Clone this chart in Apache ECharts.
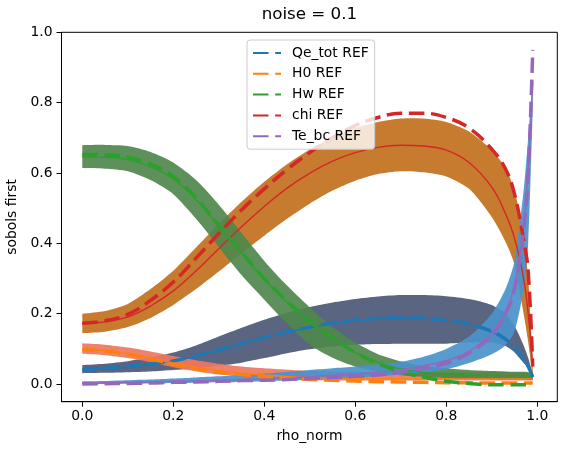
<!DOCTYPE html>
<html>
<head>
<meta charset="utf-8">
<script src="https://cdn.jsdelivr.net/npm/echarts@6/dist/echarts.min.js"></script>
<style>
  html, body { margin: 0; padding: 0; background: #fff; }
  #chart { width: 567px; height: 455px; }
</style>
</head>
<body>
<div id="chart"></div>
<script>
// rho_norm grid
var xs = [0, 0.05, 0.1, 0.15, 0.2, 0.25, 0.3, 0.35, 0.4, 0.45, 0.5, 0.55, 0.6, 0.65, 0.7, 0.75, 0.8, 0.85, 0.9, 0.93, 0.95, 0.97, 0.98, 0.99];

// Qe_tot
var qeRef  = [0.040,0.045,0.050,0.057,0.066,0.080,0.097,0.115,0.132,0.148,0.162,0.174,0.182,0.187,0.189,0.187,0.181,0.170,0.150,0.128,0.104,0.070,0.050,0.020];
var qeMean = [0.041,0.044,0.049,0.056,0.066,0.079,0.096,0.114,0.131,0.147,0.161,0.172,0.180,0.185,0.187,0.185,0.179,0.168,0.148,0.126,0.102,0.068,0.048,0.022];
var qeLo   = [0.031,0.032,0.034,0.036,0.040,0.045,0.052,0.061,0.074,0.088,0.099,0.107,0.112,0.114,0.115,0.115,0.115,0.118,0.118,0.108,0.090,0.060,0.045,0.018];
var qeHi   = [0.054,0.058,0.065,0.076,0.090,0.110,0.135,0.160,0.183,0.203,0.219,0.232,0.242,0.249,0.253,0.253,0.250,0.242,0.225,0.200,0.165,0.110,0.075,0.030];

// H0
var h0Ref  = [0.098,0.094,0.085,0.072,0.057,0.044,0.034,0.027,0.021,0.017,0.013,0.011,0.009,0.007,0.006,0.005,0.004,0.004,0.003,0.003,0.003,0.003,0.003,0.003];
var h0Mean = [0.100,0.095,0.086,0.074,0.060,0.048,0.038,0.031,0.026,0.022,0.019,0.017,0.016,0.015,0.015,0.015,0.015,0.015,0.015,0.015,0.015,0.015,0.015,0.015];
var h0Lo   = [0.086,0.082,0.074,0.062,0.048,0.036,0.027,0.021,0.017,0.014,0.012,0.011,0.010,0.010,0.010,0.010,0.010,0.010,0.010,0.010,0.010,0.010,0.010,0.010];
var h0Hi   = [0.116,0.112,0.104,0.093,0.080,0.068,0.058,0.050,0.045,0.041,0.038,0.036,0.035,0.034,0.034,0.034,0.034,0.034,0.034,0.034,0.033,0.032,0.032,0.030];

// Hw
var hwRef  = [0.653,0.652,0.645,0.625,0.590,0.530,0.450,0.375,0.300,0.236,0.178,0.130,0.090,0.058,0.035,0.020,0.008,0.002,-0.002,-0.002,-0.002,-0.002,-0.002,-0.002];
var hwMean = [0.646,0.645,0.638,0.618,0.583,0.525,0.448,0.372,0.298,0.233,0.175,0.128,0.090,0.062,0.043,0.033,0.028,0.026,0.025,0.024,0.024,0.023,0.022,0.020];
var hwLo   = [0.614,0.612,0.605,0.580,0.540,0.470,0.390,0.310,0.240,0.172,0.112,0.075,0.050,0.035,0.025,0.020,0.017,0.015,0.014,0.013,0.013,0.013,0.012,0.012];
var hwHi   = [0.679,0.680,0.677,0.660,0.630,0.580,0.510,0.430,0.350,0.280,0.218,0.162,0.118,0.085,0.065,0.052,0.045,0.040,0.037,0.036,0.035,0.035,0.034,0.030];

// chi
var chiRef  = [0.173,0.180,0.198,0.238,0.290,0.358,0.428,0.495,0.555,0.610,0.658,0.700,0.735,0.758,0.770,0.770,0.758,0.728,0.668,0.612,0.540,0.410,0.320,0.050];
var chiMean = [0.172,0.177,0.191,0.222,0.265,0.322,0.385,0.447,0.505,0.557,0.600,0.634,0.658,0.673,0.679,0.677,0.665,0.630,0.560,0.485,0.415,0.300,0.200,0.050];
var chiLo   = [0.145,0.149,0.162,0.188,0.225,0.270,0.320,0.372,0.422,0.470,0.513,0.550,0.578,0.597,0.605,0.602,0.590,0.555,0.475,0.405,0.340,0.200,0.120,0.020];
var chiHi   = [0.200,0.208,0.228,0.270,0.322,0.388,0.455,0.518,0.575,0.625,0.667,0.702,0.728,0.745,0.755,0.755,0.745,0.718,0.665,0.615,0.550,0.420,0.300,0.070];

// Te_bc
var teRef  = [0.000,0.001,0.002,0.003,0.005,0.006,0.008,0.010,0.011,0.013,0.016,0.019,0.022,0.026,0.033,0.045,0.060,0.088,0.140,0.200,0.270,0.440,0.600,0.950];
var teMean = [0.003,0.004,0.005,0.006,0.008,0.009,0.011,0.013,0.015,0.018,0.021,0.025,0.029,0.034,0.041,0.052,0.067,0.093,0.145,0.205,0.280,0.450,0.610,0.860];
var teLo   = [0.000,0.000,0.001,0.002,0.003,0.004,0.005,0.006,0.008,0.010,0.012,0.015,0.018,0.022,0.027,0.033,0.042,0.060,0.085,0.110,0.150,0.270,0.400,0.780];
var teHi   = [0.008,0.009,0.011,0.013,0.016,0.019,0.022,0.026,0.030,0.035,0.040,0.045,0.050,0.056,0.063,0.078,0.100,0.135,0.200,0.270,0.350,0.550,0.700,0.870];

var xTicks = [0, 0.2, 0.4, 0.6, 0.8, 1.0];
var yTicks = [0, 0.2, 0.4, 0.6, 0.8, 1.0];

var FONT = 'DejaVu Sans';

var myChart = echarts.init(document.getElementById('chart'));

function pairs(arr) {
    return xs.map(function (x, i) { return [x, arr[i]]; });
}

// filled band between lo and hi (corner points doubled so the ends stay square)
function band(name, lo, hi, color, z) {
    return {
        type: 'custom',
        name: name,
        z: z,
        silent: true,
        data: xs.map(function (x, i) { return [x, lo[i], hi[i]]; }),
        encode: {x: 0, y: [1, 2]},
        renderItem: function (params, api) {
            if (params.dataIndex !== 0) return null;
            var n = xs.length;
            var pts = [];
            pts.push(api.coord([xs[0], hi[0]]));
            for (var i = 0; i < n; i++) pts.push(api.coord([xs[i], hi[i]]));
            pts.push(api.coord([xs[n - 1], hi[n - 1]]));
            pts.push(api.coord([xs[n - 1], lo[n - 1]]));
            for (var j = n - 1; j >= 0; j--) pts.push(api.coord([xs[j], lo[j]]));
            pts.push(api.coord([xs[0], lo[0]]));
            return {type: 'polygon', shape: {points: pts, smooth: 0.25}, style: {fill: color, opacity: 0.92}};
        }
    };
}

function meanLine(name, arr, color) {
    return {
        type: 'line', name: name, data: pairs(arr), z: 5,
        symbol: 'none', smooth: 0.4,
        lineStyle: {color: color, width: 1.4}
    };
}

function refLine(name, arr, color) {
    return {
        type: 'line', name: name, data: pairs(arr), z: 6,
        symbol: 'none', smooth: 0.4,
        itemStyle: {color: color},
        lineStyle: {color: color, width: 3.5, type: [15.5, 6.7]}
    };
}

var option = {
    animation: false,
    backgroundColor: '#fff',
    title: {
        text: 'noise = 0.1',
        left: 309.4,
        top: 6,
        textAlign: 'center',
        padding: 0,
        textStyle: {fontFamily: FONT, fontSize: 16.7, fontWeight: 'normal', color: '#000'}
    },
    legend: {
        data: ['Qe_tot REF', 'H0 REF', 'Hw REF', 'chi REF', 'Te_bc REF'],
        orient: 'vertical',
        left: 247,
        top: 40,
        padding: [6, 6, 6, 5],
        itemWidth: 28,
        itemHeight: 14,
        itemGap: 6.8,
        itemStyle: {opacity: 0},
        backgroundColor: 'rgba(255,255,255,0.8)',
        borderColor: '#cccccc',
        borderWidth: 1,
        borderRadius: 3,
        z: 10,
        textStyle: {fontFamily: FONT, fontSize: 13.9, color: '#000', lineHeight: 14, padding: [0, 0, 0, 6]}
    },
    grid: {
        left: 61.5, right: 9.7, top: 32.3, bottom: 53.3,
        show: true, borderColor: '#000', borderWidth: 1,
        containLabel: false, outerBoundsMode: 'none'
    },
    xAxis: {
        type: 'value', min: -0.0457, max: 1.044,
        name: 'rho_norm', nameLocation: 'middle', nameGap: 28,
        nameTextStyle: {fontFamily: FONT, fontSize: 13.9, color: '#000'},
        axisLine: {show: true, onZero: false, lineStyle: {color: '#000', width: 1}},
        axisTick: {show: true, length: 5, customValues: xTicks, lineStyle: {color: '#000'}},
        axisLabel: {
            customValues: xTicks, margin: 8,
            fontFamily: FONT, fontSize: 13.9, color: '#000',
            formatter: function (v) { return v.toFixed(1); }
        },
        splitLine: {show: false}
    },
    yAxis: {
        type: 'value', min: -0.05, max: 1.0,
        name: 'sobols first', nameLocation: 'middle', nameGap: 37,
        nameTextStyle: {fontFamily: FONT, fontSize: 13.9, color: '#000'},
        axisLine: {show: true, onZero: false, lineStyle: {color: '#000', width: 1}},
        axisTick: {show: true, length: 5, customValues: yTicks, lineStyle: {color: '#000'}},
        axisLabel: {
            customValues: yTicks, margin: 9,
            fontFamily: FONT, fontSize: 13.9, color: '#000',
            formatter: function (v) { return v.toFixed(1); }
        },
        splitLine: {show: false}
    },
    series: [
        band('Qe_tot band', qeLo, qeHi, '#4c5876', 1),
        band('H0 band', h0Lo, h0Hi, '#ee7761', 2),
        band('chi band', chiLo, chiHi, '#c1701d', 3),
        band('Hw band', hwLo, hwHi, '#4f874c', 3),
        band('Te_bc band', teLo, teHi, '#4a92cb', 4),
        meanLine('Qe_tot', qeMean, '#1f77b4'),
        meanLine('H0', h0Mean, '#ff7f0e'),
        meanLine('Hw', hwMean, '#2ca02c'),
        meanLine('chi', chiMean, '#d62728'),
        meanLine('Te_bc', teMean, '#9467bd'),
        refLine('Qe_tot REF', qeRef, '#1f77b4'),
        refLine('H0 REF', h0Ref, '#ff7f0e'),
        refLine('Hw REF', hwRef, '#2ca02c'),
        refLine('chi REF', chiRef, '#d62728'),
        refLine('Te_bc REF', teRef, '#9467bd')
    ]
};

myChart.setOption(option);
window.addEventListener('resize', function () {
    myChart.resize();
});
</script>
</body>
</html>
